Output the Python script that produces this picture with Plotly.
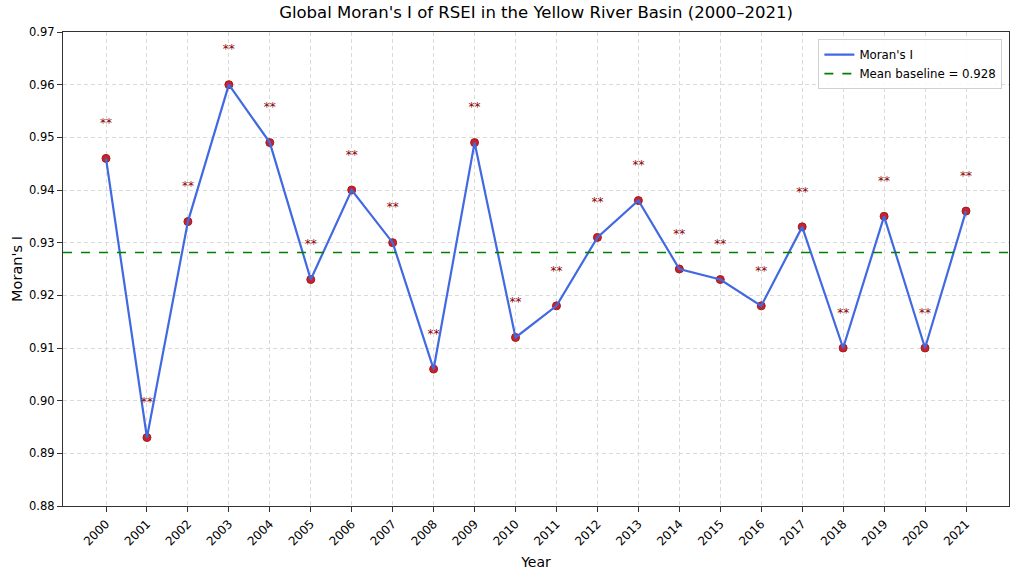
import plotly.graph_objects as go

# Global Moran's I per year
years = list(range(2000, 2022))
morans_i = [0.946, 0.893, 0.934, 0.960, 0.949, 0.923, 0.940, 0.930, 0.906, 0.949, 0.912,
            0.918, 0.931, 0.938, 0.925, 0.923, 0.918, 0.933, 0.910, 0.935, 0.910, 0.936]
signif = ['**'] * len(years)

mean_val = sum(morans_i) / len(morans_i)
star_offset = 0.0065

fig = go.Figure()

# points
fig.add_trace(go.Scatter(x=years, y=morans_i, mode='markers', showlegend=False,
                         marker=dict(color='#c8232c', size=8,
                                     line=dict(color='#a01c1c', width=1))))
# line
fig.add_trace(go.Scatter(x=years, y=morans_i, mode='lines', name="Moran's I",
                         line=dict(color='royalblue', width=2.2)))
# mean baseline
fig.add_trace(go.Scatter(x=[1998.95, 2022.05], y=[mean_val, mean_val], mode='lines',
                         name='Mean baseline = %.3f' % mean_val,
                         line=dict(color='green', width=1.6, dash='dash')))
# significance stars
fig.add_trace(go.Scatter(x=years, y=[v + star_offset for v in morans_i], mode='text',
                         text=signif, showlegend=False,
                         textfont=dict(color='darkred', size=12, family='DejaVu Sans')))

fig.update_layout(
    width=1019, height=577,
    margin=dict(l=63, r=10, t=32, b=71),
    paper_bgcolor='white', plot_bgcolor='white',
    font=dict(family='DejaVu Sans', color='black', size=11.5),
    title=dict(text="Global Moran's I of RSEI in the Yellow River Basin (2000\u20132021)",
               x=0.5, xref='paper', xanchor='center', y=0.988, yanchor='top',
               font=dict(size=16.5, family='DejaVu Sans')),
    legend=dict(x=0.993, y=0.985, xanchor='right', yanchor='top',
                bgcolor='rgba(255,255,255,0.85)', bordercolor='#d0d0d0', borderwidth=1,
                font=dict(size=11.8)),
    xaxis=dict(range=[1998.95, 2022.05], tickvals=years, ticktext=[str(y) for y in years],
               tickangle=-45, showline=True, mirror=True, linecolor='#333333', linewidth=1.2,
               ticks='outside', ticklen=5, tickcolor='#333333', showgrid=True,
               gridcolor='#dadada', gridwidth=0.8, griddash='4px,3px', zeroline=False,
               tickfont=dict(size=12), automargin=False,
               title=dict(text='Year', font=dict(size=14), standoff=9)),
    yaxis=dict(range=[0.88, 0.97], dtick=0.01, tickformat='.2f',
               showline=True, mirror=True, linecolor='#333333', linewidth=1.2,
               ticks='outside', ticklen=5, tickcolor='#333333', showgrid=True,
               gridcolor='#dadada', gridwidth=0.8, griddash='4px,3px', zeroline=False,
               automargin=False,
               title=dict(text="Moran's I", font=dict(size=14.5), standoff=2)),
)

fig.write_html('out.html', config={'displayModeBar': False},
               post_script="document.body.style.margin='0';")
